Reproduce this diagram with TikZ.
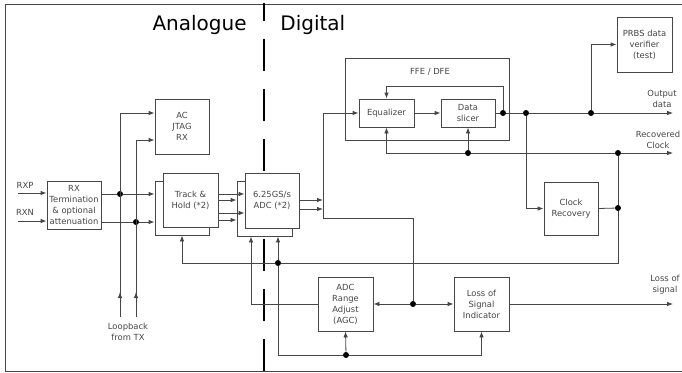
\documentclass[tikz,border=0pt]{standalone}
\usepackage{fontspec}
\setmainfont{DejaVu Sans}
\usepackage{tikz}
\usetikzlibrary{arrows.meta, positioning, shapes}
\definecolor{mygray}{RGB}{70,70,70}

\begin{document}
\begin{tikzpicture}[x=1pt,y=-1pt,color=mygray,line width=0.8pt,
    blk/.style={draw,fill=white,align=center,inner sep=0pt,font=\fontsize{8.4}{11}\selectfont},
    lbl/.style={align=center,inner sep=0pt,font=\fontsize{8.4}{11}\selectfont},
    title/.style={black,inner sep=0pt,font=\fontsize{20}{24}\selectfont},
    arr/.style={-{Latex[length=6pt,width=4.5pt]}},
    dot/.style={circle,fill=black,inner sep=0pt,minimum size=6pt}]
        \useasboundingbox (0,0) rectangle (682,372);
        \draw (682,4)--(5,4)--(5,371)--(682,371);
        \node[title,anchor=base east] (ana) at (247,30){Analogue};
        \node[title,anchor=base west] (dig) at (280,30){Digital};
        \draw[black,line width=2.5pt,dash pattern=on 32pt off 18pt](264,371)--(264,3);

        \node[blk,minimum width=54pt,minimum height=48pt] (rxt) at (74,205){RX\\Termination\\\& optional\\attenuation};
        \node[lbl] (rxp) at (25,185){RXP};
        \node[lbl] (rxn) at (25,212){RXN};
        \node[blk,minimum width=54pt,minimum height=55pt] (jtag) at (182,126.5){AC\\JTAG\\RX};
        \node[blk,minimum width=54pt,minimum height=54pt] (thb) at (182,208){};
        \node[blk,minimum width=55pt,minimum height=54pt] (th) at (190.5,200){Track \&\\Hold (*2)};
        \node[blk,minimum width=55pt,minimum height=55pt] (adcb) at (264.5,208.5){};
        \node[blk,minimum width=54pt,minimum height=55pt] (adc) at (272,200.5){6.25GS/s\\ADC (*2)};
        \node[draw,minimum width=164pt,minimum height=82pt] (ffe) at (427,99){};
        \node[lbl] (ffet) at (430,72){FFE / DFE};
        \node[blk,minimum width=55pt,minimum height=28pt] (eq) at (386.5,113){Equalizer};
        \node[blk,minimum width=54pt,minimum height=28pt] (sl) at (468,113){Data\\slicer};
        \node[blk,minimum width=55pt,minimum height=55pt] (prbs) at (644.5,44.5){PRBS data\\verifier\\(test)};
        \node[blk,minimum width=54pt,minimum height=53pt] (cr) at (571,208.5){Clock\\Recovery};
        \node[blk,minimum width=55pt,minimum height=54pt] (agc) at (345.5,304){ADC\\Range\\Adjust\\(AGC)};
        \node[blk,minimum width=55pt,minimum height=54pt] (los) at (481.5,304){Loss of\\Signal\\Indicator};
        \node[lbl] (outl) at (662,99){Output\\data};
        \node[lbl] (clkl) at (658,140){Recovered\\Clock};
        \node[lbl] (losl) at (665,285){Loss of\\signal};
        \node[lbl] (lbk) at (128,332){Loopback\\from TX};

        \node[dot] (d1) at (120,194){};
        \node[dot] (d2) at (136,222){};
        \node[dot] (d5) at (413,304){};
        \node[dot] (d6) at (503,113){};
        \node[dot] (d7) at (526,113){};
        \node[dot] (d8) at (591,113){};
        \node[dot] (d9) at (468,153){};
        \node[dot] (d10) at (618,153){};
        \node[dot] (d11) at (618,208){};
        \node[dot] (d12) at (278,263){};
        \node[dot] (d13) at (346,355){};
        \coordinate (rxpin) at (18,193);
        \coordinate (rxnin) at (18,221);
        \coordinate (lb1) at (120,317);
        \coordinate (lb2) at (136,317);
        \coordinate (split) at (323,218);
        \coordinate (dout) at (673,113);
        \coordinate (cout) at (673,153);
        \coordinate (lout) at (673,304);

        \draw[arr](rxpin)--(rxpin -| rxt.west);
        \draw[arr](rxnin)--(rxnin -| rxt.west);
        \draw(rxt.east |- d1)--(d1);
        \draw[arr](d1)--(d1 -| thb.west);
        \draw(rxt.east |- d2)--(d2);
        \draw[arr](d2)--(d2 -| thb.west);
        \draw[arr](lb1)--++(0,-25);
        \draw[arr](lb2)--++(0,-25);
        \draw[arr](lb1)|-(jtag.west |- 0,113);
        \draw[arr](lb2)|-(jtag.west |- 0,140);

        \draw[arr](th.east |- 0,194)--(adc.west |- 0,194);
        \draw[arr](th.east |- 0,200)--(adcb.west |- 0,200);
        \draw[arr](th.east |- 0,213)--(adc.west |- 0,213);
        \draw[arr](th.east |- 0,220)--(adcb.west |- 0,220);
        \draw[arr](adc.east |- 0,200)--(split |- 0,200);
        \draw[arr](adc.east |- 0,209)--(split |- 0,209);
        \draw[arr](split)|-(eq.west);
        \draw(split)-|(d5);
        \draw[arr](d5)--(agc.east);
        \draw[arr](d5)--(los.west);

        \draw[arr](eq)--(sl);
        \draw(sl)--(d6);
        \draw(d6)--(d7);
        \draw(d7)--(d8);
        \draw[arr](d8)--(dout);
        \draw[arr](d6)--++(0,-27)-|(eq.north);
        \draw[arr](d7)|-(cr.west);
        \draw[arr](d8)|-(prbs.west);

        \draw[arr](d10)--(cout);
        \draw(d10)--(d9);
        \draw[arr](d9)-|(eq.south);
        \draw[arr](d9)--(sl.south);
        \draw(d10)--(d11);
        \draw(cr.east)--(d11);
        \draw(d11)|-(d12);
        \draw[arr](d12)-|(thb.south);
        \draw[arr](d12)--(d12 |- adcb.south);
        \draw(d12)|-(d13);
        \draw[arr](d13)--(agc.south);
        \draw[arr](d13)-|(los.south);
        \draw[arr](agc.west)-|(adcb.south -| 251,0);
        \draw[arr](los.east)--(lout);
      \end{tikzpicture}
\end{document}
